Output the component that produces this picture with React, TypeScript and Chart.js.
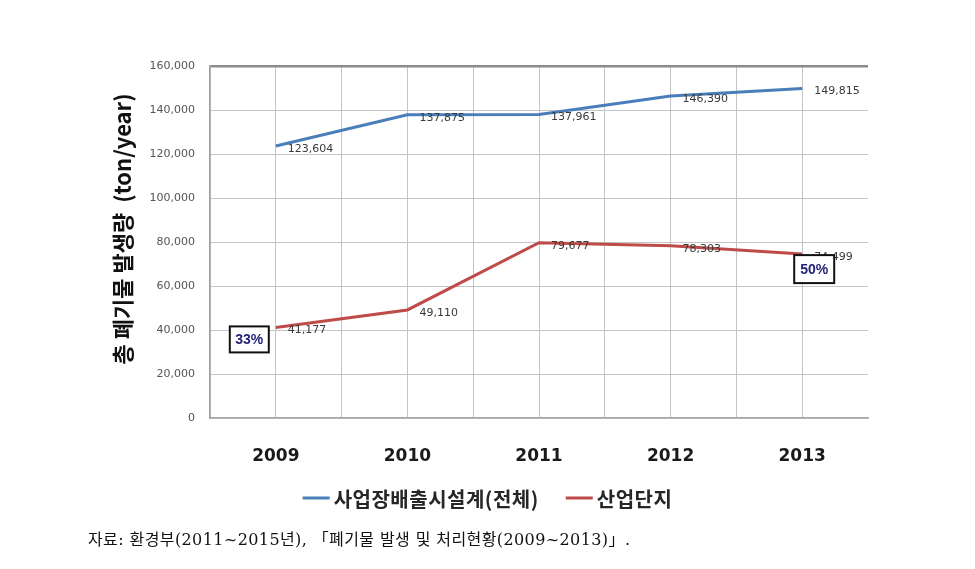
import React, { useEffect, useRef } from "react";
import { Chart, registerables } from "chart.js";

Chart.register(...registerables);

const years = [2009, 2010, 2011, 2012, 2013];
const totalSeries = [123604, 137875, 137961, 146390, 149815];
const industrialSeries = [41177, 49110, 79677, 78303, 74499];
const seriesNames = ["사업장배출시설계(전체)", "산업단지"];
const seriesColors = ["#4A7EBB", "#BE4B48"];
const shareBadges = [
  { index: 0, text: "33%" },
  { index: 4, text: "50%" },
];
const yTicks = [0, 20000, 40000, 60000, 80000, 100000, 120000, 140000, 160000];
const yTitle = "총 폐기물 발생량  (ton/year)";
const caption = "자료: 환경부(2011~2015년), 「폐기물 발생 및 처리현황(2009~2013)」.";

const fmt = (v: number) => v.toLocaleString("en-US");

const overlayPlugin = {
  id: "overlay",
  afterDatasetsDraw(chart: any) {
    const ctx = chart.ctx;
    const xs = chart.scales.x;
    const ys = chart.scales.y;
    ctx.save();
    ctx.font = "11px 'DejaVu Sans'";
    ctx.fillStyle = "#3a3a3a";
    ctx.textAlign = "left";
    ctx.textBaseline = "middle";
    [totalSeries, industrialSeries].forEach((arr) => {
      arr.forEach((v, i) => {
        const px = xs.getPixelForValue(years[i]);
        const py = ys.getPixelForValue(v);
        ctx.fillText(fmt(v), px + 12, py + 3);
      });
    });
    shareBadges.forEach((b) => {
      const px = xs.getPixelForValue(years[b.index]);
      const py = ys.getPixelForValue(industrialSeries[b.index]);
      let bx: number, by: number, bw: number, bh: number;
      if (b.index === 0) {
        bx = px - 46; by = py - 1; bw = 39; bh = 26;
      } else {
        bx = px - 8; by = py + 1; bw = 40; bh = 28;
      }
      ctx.fillStyle = "#ffffff";
      ctx.fillRect(bx, by, bw, bh);
      ctx.strokeStyle = "#111111";
      ctx.lineWidth = 2;
      ctx.strokeRect(bx, by, bw, bh);
      ctx.fillStyle = "#23237a";
      ctx.font = "bold 14px 'Liberation Sans'";
      ctx.textAlign = "center";
      ctx.textBaseline = "middle";
      ctx.fillText(b.text, bx + bw / 2, by + bh / 2 + 1);
    });
    ctx.restore();
  },
  afterDraw(chart: any) {
    const ctx = chart.ctx;
    ctx.save();
    ctx.translate(123, 229);
    ctx.rotate(-Math.PI / 2);
    ctx.font = "bold 22px 'Noto Sans CJK KR'";
    ctx.fillStyle = "#111111";
    ctx.textAlign = "center";
    ctx.textBaseline = "middle";
    ctx.fillText(yTitle, 0, 0);
    ctx.restore();

    ctx.save();
    ctx.font = "bold 20px 'Noto Sans CJK KR'";
    (ctx as any).letterSpacing = "0.5px";
    const lineLen = 27;
    const gap = 4;
    const itemGap = 27;
    const widths = seriesNames.map((n) => ctx.measureText(n).width);
    const total =
      widths.reduce((a, w) => a + lineLen + gap + w, 0) + itemGap * (seriesNames.length - 1);
    let x = chart.width / 2 - total / 2;
    const y = 498;
    seriesNames.forEach((n, i) => {
      ctx.strokeStyle = seriesColors[i];
      ctx.lineWidth = 3;
      ctx.beginPath();
      ctx.moveTo(x, y);
      ctx.lineTo(x + lineLen, y);
      ctx.stroke();
      ctx.fillStyle = "#262626";
      ctx.textAlign = "left";
      ctx.textBaseline = "middle";
      ctx.fillText(n, x + lineLen + gap, y + 1);
      x += lineLen + gap + widths[i] + itemGap;
    });
    ctx.restore();
  },
};

export default function App() {
  const ref = useRef<HTMLCanvasElement>(null);
  useEffect(() => {
    if (!ref.current) return;
    const chart = new Chart(ref.current, {
      type: "line",
      data: {
        datasets: [
          {
            label: seriesNames[0],
            data: years.map((y, i) => ({ x: y, y: totalSeries[i] })),
            borderColor: seriesColors[0],
            backgroundColor: seriesColors[0],
            borderWidth: 3,
            pointRadius: 0,
            tension: 0,
          },
          {
            label: seriesNames[1],
            data: years.map((y, i) => ({ x: y, y: industrialSeries[i] })),
            borderColor: seriesColors[1],
            backgroundColor: seriesColors[1],
            borderWidth: 3,
            pointRadius: 0,
            tension: 0,
          },
        ],
      },
      options: {
        animation: false,
        responsive: false,
        maintainAspectRatio: false,
        layout: { padding: { left: 0, right: 107, top: 66, bottom: 0 } },
        plugins: { legend: { display: false }, tooltip: { enabled: false } },
        scales: {
          x: {
            type: "linear",
            min: years[0] - 0.5,
            max: years[years.length - 1] + 0.5,
            afterFit: (s: any) => {
              s.height = 151;
            },
            afterBuildTicks: (s: any) => {
              const t = [];
              for (let v = years[0] - 0.5; v <= years[years.length - 1] + 0.5 + 1e-9; v += 0.5) t.push({ value: v });
              s.ticks = t;
            },
            ticks: {
              autoSkip: false,
              maxRotation: 0,
              padding: 28,
              color: "#1a1a1a",
              font: { family: "'DejaVu Sans'", size: 17, weight: "bold" },
              callback: (v: any) => (Number.isInteger(Number(v)) ? String(v) : ""),
            },
            grid: {
              drawTicks: false,
              color: (c: any) =>
                c.tick && c.tick.value > years[years.length - 1] ? "rgba(0,0,0,0)" : "#c4c4c4",
              lineWidth: 1,
            },
            border: { display: true, color: "#a6a6a6", width: 1.5 },
          },
          y: {
            min: 0,
            max: 160000,
            afterFit: (s: any) => {
              s.width = 210;
            },
            afterBuildTicks: (s: any) => {
              s.ticks = yTicks.map((v) => ({ value: v }));
            },
            ticks: {
              padding: 15,
              color: "#555555",
              font: { family: "'DejaVu Sans'", size: 11 },
              callback: (v: any) => fmt(Number(v)),
            },
            grid: {
              drawTicks: false,
              color: (c: any) => (c.tick && c.tick.value === 160000 ? "#8c8c8c" : "#c4c4c4"),
              lineWidth: (c: any) => (c.tick && c.tick.value === 160000 ? 2.5 : 1),
            },
            border: { display: true, color: "#a0a0a0", width: 1.5 },
          },
        },
      },
      plugins: [overlayPlugin],
    } as any);
    return () => chart.destroy();
  }, []);

  return (
    <div style={{ position: "absolute", left: 0, top: 0, width: 975, height: 569, background: "#fff" }}>
      <canvas ref={ref} width={975} height={569} style={{ width: 975, height: 569, display: "block" }} />
      <div
        style={{
          position: "absolute",
          left: 88,
          top: 529,
          fontFamily: "'DejaVu Serif', 'Noto Sans CJK KR', serif",
          fontSize: 16,
          letterSpacing: "0.4px",
          color: "#111",
          whiteSpace: "nowrap",
          lineHeight: "22px",
        }}
      >
        {caption}
      </div>
    </div>
  );
}
